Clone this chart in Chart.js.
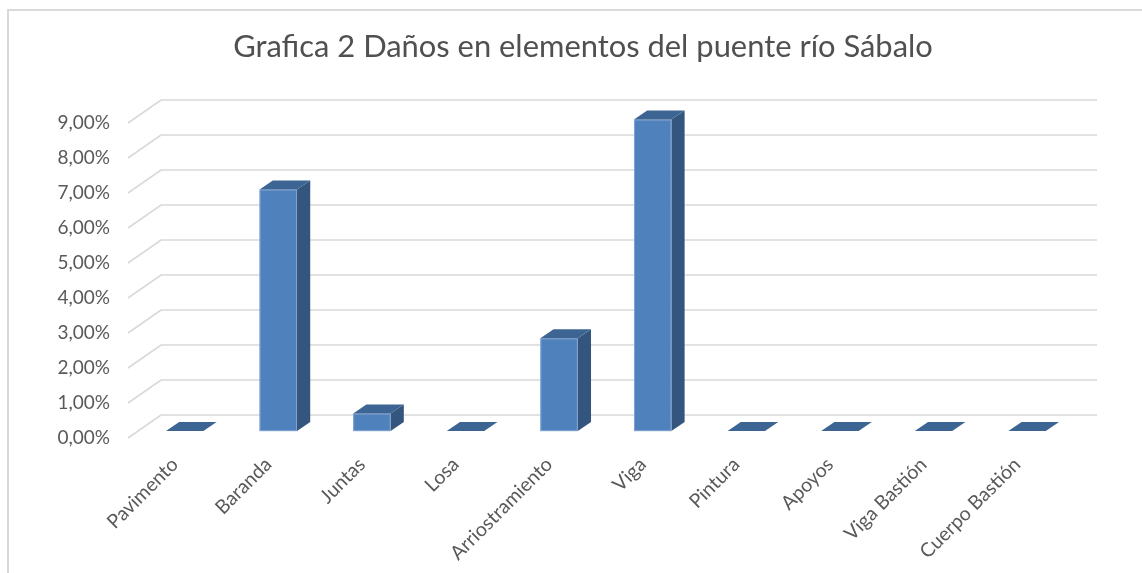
<!DOCTYPE html>
<html><head><meta charset="utf-8">
<script src="https://cdn.jsdelivr.net/npm/chart.js@4.4.0/dist/chart.umd.min.js"></script>
<style>html,body{margin:0;padding:0;background:#fff;overflow:hidden}canvas{display:block}</style>
</head><body>
<canvas id="c" width="1142" height="573"></canvas>
<script>
const categories = ['Pavimento','Baranda','Juntas','Losa','Arriostramiento','Viga','Pintura','Apoyos','Viga Bastión','Cuerpo Bastión'];
const damagePercent = [0, 6.9, 0.5, 0, 2.65, 8.9, 0, 0, 0, 0];
const yMin = 0;
const yMax = 9;
const yStep = 1;
const titleText = 'Grafica 2 Daños en elementos del puente río Sábalo';

const DX = 33, DY = -23;          // depth of the 3D floor
const BAR_FRONT = 0.3, BAR_BACK = 0.7;
const FONT = 'Lato';

function fitSize(text, target){
  const c = document.createElement('canvas').getContext('2d');
  c.font = '20px ' + FONT;
  return 20 * target / c.measureText(text).width;
}
const titleSize = fitSize(titleText, 700);
const titleTop = 47 - 0.6 * titleSize;
const titleBottom = 123 - titleTop - 1.2 * titleSize;

const fake3d = {
  id: 'fake3d',
  beforeDraw(chart){
    const ctx = chart.ctx;
    ctx.save();
    ctx.fillStyle = '#fff';
    ctx.fillRect(0, 0, chart.width, chart.height);
    ctx.strokeStyle = '#d9d9d9';
    ctx.lineWidth = 2;
    ctx.beginPath();
    ctx.moveTo(8, chart.height); ctx.lineTo(8, 10); ctx.lineTo(chart.width, 10);
    ctx.stroke();
    ctx.restore();
  },
  beforeDatasetsDraw(chart){
    const {ctx, chartArea: a, scales: {y}} = chart;
    ctx.save();
    ctx.strokeStyle = '#d9d9d9';
    ctx.lineWidth = 1.6;
    y.ticks.forEach(t => {
      const py = y.getPixelForValue(t.value);
      ctx.beginPath();
      ctx.moveTo(a.left, py);
      ctx.lineTo(a.left + DX, py + DY);
      ctx.lineTo(a.right + DX, py + DY);
      ctx.stroke();
    });
    ctx.restore();
  },
  afterDatasetsDraw(chart){
    const ctx = chart.ctx;
    const meta = chart.getDatasetMeta(0);
    const fx = BAR_FRONT * DX, fy = BAR_FRONT * DY;
    const ddx = (BAR_BACK - BAR_FRONT) * DX, ddy = (BAR_BACK - BAR_FRONT) * DY;
    ctx.save();
    meta.data.forEach(el => {
      const l = el.x - el.width / 2 + fx, r = el.x + el.width / 2 + fx;
      const t = el.y + fy, b = el.base + fy;
      ctx.fillStyle = '#34557d';
      ctx.beginPath();
      ctx.moveTo(r, t); ctx.lineTo(r + ddx, t + ddy); ctx.lineTo(r + ddx, b + ddy); ctx.lineTo(r, b);
      ctx.closePath(); ctx.fill();
      if (b - t > 0.5) {
        ctx.fillStyle = '#4f81bd';
        ctx.fillRect(l, t, r - l, b - t);
        ctx.strokeStyle = 'rgba(140,170,215,0.8)';
        ctx.lineWidth = 1;
        ctx.strokeRect(l + 0.5, t + 0.5, r - l - 1, b - t - 1);
      }
      ctx.fillStyle = '#3d6593';
      ctx.beginPath();
      ctx.moveTo(l, t); ctx.lineTo(l + ddx, t + ddy); ctx.lineTo(r + ddx, t + ddy); ctx.lineTo(r, t);
      ctx.closePath(); ctx.fill();
    });
    ctx.restore();
  }
};

new Chart(document.getElementById('c'), {
  type: 'bar',
  data: {
    labels: categories,
    datasets: [{
      data: damagePercent,
      backgroundColor: 'rgba(0,0,0,0)',
      borderWidth: 0,
      barPercentage: 0.4,
      categoryPercentage: 1
    }]
  },
  options: {
    responsive: false,
    animation: false,
    devicePixelRatio: 1,
    layout: {padding: {left: 24, right: 0, top: 0, bottom: 0}},
    plugins: {
      legend: {display: false},
      tooltip: {enabled: false},
      title: {
        display: true,
        text: titleText,
        color: '#505050',
        font: {family: FONT, size: titleSize, weight: 'normal'},
        padding: {top: titleTop, bottom: titleBottom}
      }
    },
    scales: {
      x: {
        grid: {display: false, drawTicks: false},
        border: {display: false},
        ticks: {color: '#595959', font: {family: FONT, size: 19.5}, maxRotation: 45, minRotation: 45, autoSkip: false, padding: 15},
        afterFit(s){ s.height = 135; }
      },
      y: {
        min: yMin, max: yMax,
        grid: {display: false, drawTicks: false},
        border: {display: false},
        ticks: {stepSize: yStep, color: '#595959', font: {family: FONT, size: 19}, padding: 18,
          callback: v => v.toFixed(2).replace('.', ',') + '%'},
        afterFit(s){ s.width = 104; }
      },
      yRight: {
        position: 'right',
        min: yMin, max: yMax,
        grid: {display: false, drawTicks: false},
        border: {display: false},
        ticks: {display: false},
        afterFit(s){ s.width = 78; }
      }
    }
  },
  plugins: [fake3d]
});
</script>
</body></html>
